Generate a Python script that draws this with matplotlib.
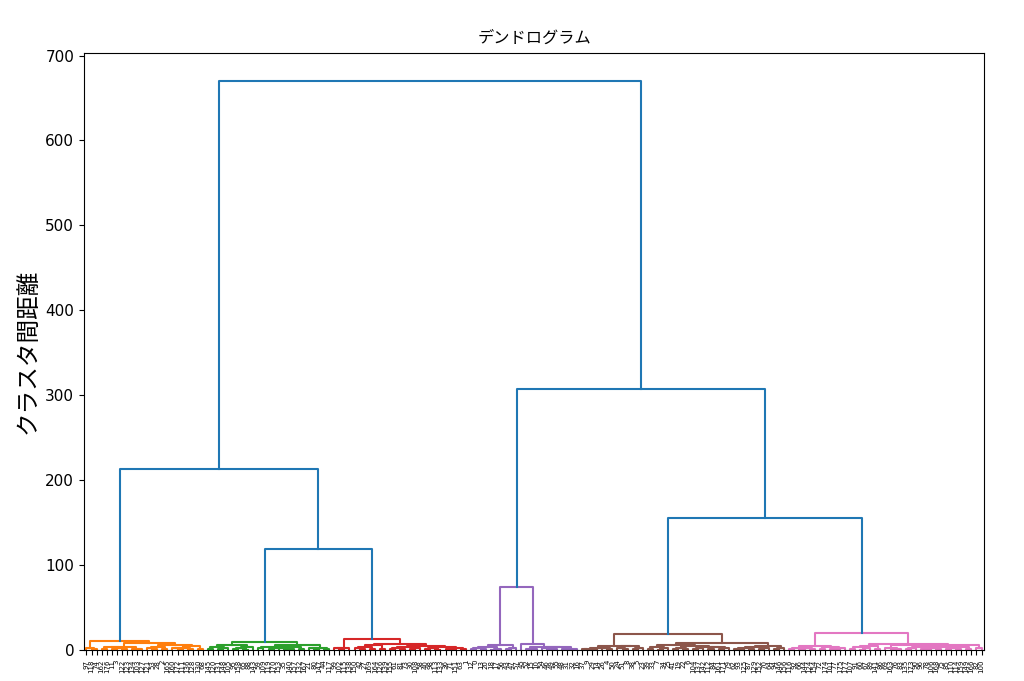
import matplotlib
matplotlib.use('Agg')
import matplotlib.pyplot as plt

plt.rcParams['font.family'] = ['DejaVu Sans', 'Noto Sans CJK JP']

# leaf labels, left to right, per colour cluster
orange_labels = [97, 118, 74, 162, 176, 11, 3, 122, 123, 134, 103, 127, 121, 53, 28, 2, 165, 160, 172, 111, 136, 128, 130, 68]
green_labels = [145, 120, 131, 148, 105, 95, 158, 65, 88, 143, 59, 109, 119, 170, 153, 35, 140, 157, 132, 167, 21, 80, 147, 44, 117]
red_labels = [99, 102, 115, 138, 150, 42, 27, 169, 164, 126, 139, 155, 61, 81, 73, 30, 108, 58, 40, 98, 113, 133, 36, 71, 151, 63, 1]
purple_labels = [12, 0, 13, 20, 18, 17, 56, 43, 47, 57, 45, 52, 15, 10, 54, 46, 49, 55, 48, 31, 32, 16]
brown_labels = [37, 9, 29, 14, 26, 4, 50, 24, 51, 8, 38, 5, 23, 39, 33, 7, 34, 25, 41, 19, 22, 6, 104, 137, 142, 112, 84, 161, 171, 79, 62, 93, 125, 87, 129, 152, 70, 64, 94, 146, 156]
pink_labels = [116, 92, 66, 144, 124, 154, 72, 174, 101, 77, 175, 177, 107, 91, 60, 67, 89, 141, 86, 69, 163, 76, 83, 135, 173, 90, 96, 78, 106, 168, 75, 85, 110, 114, 159, 149, 166, 82, 100]

# height at which neighbouring leaves get joined (cophenetic distance)
orange_gaps = [2.1, 1.0, 10.2, 1.5, 3.2, 0.8, 2.4, 1.1, 4.0, 1.6, 0.9, 8.3, 2.0, 1.2, 3.6, 0.7, 5.6, 1.9, 1.3, 2.8, 1.0, 4.4, 1.7]
green_gaps = [1.4, 3.0, 0.9, 2.2, 5.5, 1.2, 2.6, 0.6, 3.8, 9.4, 1.8, 4.1, 1.0, 2.5, 2.5, 1.3, 0.8, 3.1, 1.6, 6.3, 2.0, 1.1, 2.9, 0.7]
red_gaps = [1.9, 0.8, 2.7, 12.9, 2.2, 1.0, 3.5, 1.4, 5.8, 0.9, 7.1, 1.2, 2.3, 1.6, 3.0, 0.7, 2.4, 4.6, 1.1, 2.0, 0.6, 3.3, 1.5, 1.5, 1.8, 0.9]
purple_gaps = [0.8, 2.1, 1.0, 3.4, 0.6, 1.5, 5.4, 1.2, 2.6, 74.2, 7.0, 1.0, 0.9, 3.5, 1.8, 1.4, 0.7, 3.0, 1.1, 1.0, 1.6]
brown_gaps = [1.2, 1.6, 0.8, 2.0, 2.0, 1.5, 5.1, 2.9, 1.1, 4.2, 0.9, 2.4, 18.8, 1.3, 3.1, 0.6, 2.2, 5.8, 1.0, 2.7,
              0.8, 4.5, 1.6, 2.0, 4.0, 1.2, 3.4, 0.9, 1.8, 8.6, 1.4, 0.7, 2.5, 1.1, 3.8, 0.8, 2.2, 5.0, 1.3, 2.6]
pink_gaps = [0.9, 2.8, 1.3, 2.1, 0.7, 4.6, 1.0, 3.3, 1.5, 0.8, 2.4, 20.1, 1.7, 3.5, 0.6, 2.0, 4.9, 1.2, 7.4, 2.6,
             0.8, 1.4, 5.5, 0.9, 2.2, 3.0, 1.1, 0.7, 2.9, 1.6, 4.1, 1.0, 2.3, 0.8, 3.6, 1.3, 6.0, 1.9]
# joins between the clusters
top_gaps = [213.3, 119.0, 669.5, 307.5, 155.5]
color_threshold = 100

labels = orange_labels + green_labels + red_labels + purple_labels + brown_labels + pink_labels
gaps = (orange_gaps + [top_gaps[0]] + green_gaps + [top_gaps[1]] + red_gaps + [top_gaps[2]]
        + purple_gaps + [top_gaps[3]] + brown_gaps + [top_gaps[4]] + pink_gaps)

fig = plt.figure(figsize=(10.24, 6.81), dpi=100)
ax = fig.add_axes([0.082, 0.0455, 0.879, 0.8767])

palette = ['C1', 'C2', 'C3', 'C4', 'C5', 'C6', 'C7', 'C8', 'C9']
state = {'n': 0}


def draw(lo, hi, color=None):
    # returns (x, height) of the node holding leaves lo..hi
    if lo == hi:
        return 10 * lo + 5, 0.0
    seg = gaps[lo:hi]
    k = lo + seg.index(max(seg))
    h = gaps[k]
    if h < color_threshold and color is None:
        color = palette[state['n'] % len(palette)]
        state['n'] += 1
    xl, hl = draw(lo, k, color)
    xr, hr = draw(k + 1, hi, color)
    c = color if h < color_threshold else 'C0'
    ax.plot([xl, xl, xr, xr], [hl, h, h, hr], color=c, lw=1.5)
    return (xl + xr) / 2, h


draw(0, len(labels) - 1)

ax.set_xlim(0, 10 * len(labels))
ax.set_ylim(0, max(gaps) * 1.05)
ax.set_xticks([10 * i + 5 for i in range(len(labels))])
ax.set_xticklabels([str(v) for v in labels], rotation=90, fontsize=5)
ax.tick_params(axis='y', labelsize=11)
ax.set_title('デンドログラム', fontsize=11.7, pad=7)
ax.set_ylabel('クラスタ間距離', fontsize=17)

fig.savefig('out.png', dpi=100)
